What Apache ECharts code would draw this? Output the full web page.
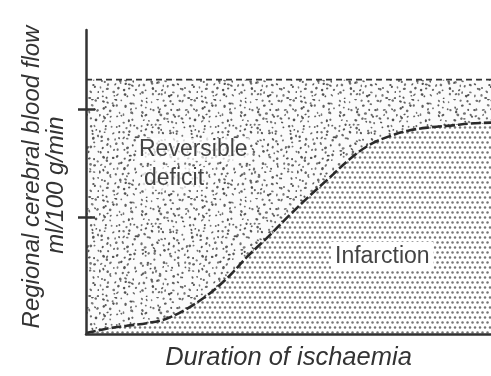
<!DOCTYPE html>
<html>
<head>
<meta charset="utf-8">
<script src="https://cdn.jsdelivr.net/npm/echarts@6/dist/echarts.min.js"></script>
<style>
  html, body { margin: 0; padding: 0; background: #fff; }
  #chart { width: 491px; height: 376px; }
</style>
</head>
<body>
<div id="chart"></div>
<script>
// Duration of ischaemia (relative units, 0-100)
const durations = [0, 5, 10, 15, 20, 25, 30, 35, 40, 45, 50, 55, 60, 65, 70, 75, 80, 85, 90, 95, 100];
// Flow threshold for infarction at each duration (relative units)
const infarctionThreshold = [0.3, 1.8, 2.8, 3.7, 5.3, 8.7, 13.3, 19.3, 26.7, 33.3, 40.3, 47.0, 53.3, 59.7, 64.7, 67.7, 69.7, 70.7, 71.3, 72.0, 72.3];
// Normal flow level (upper bound of the reversible band)
const normalFlow = 87;
const normalSpan = [0, 100];
// Unlabelled tick marks on the flow axis
const flowTicks = [40, 77];

const INK = '#333';

// Irregular stipple for the reversible band: jittered grid, deterministic
function makeStipple() {
  const size = 99, step = 5.5;
  const c = document.createElement('canvas');
  c.width = size; c.height = size;
  const g = c.getContext('2d');
  g.fillStyle = '#fbfbfb';
  g.fillRect(0, 0, size, size);
  let s = 98765;
  const rnd = () => { s = (s * 1103515245 + 12345) & 0x7fffffff; return s / 0x7fffffff; };
  for (let gy = 0; gy < size; gy += step) {
    for (let gx = 0; gx < size; gx += step) {
      const x = gx + rnd() * step, y = gy + rnd() * step;
      const w = 1.3 + rnd() * 1.5, h = 1.1 + rnd() * 1.2;
      const shade = 60 + Math.floor(rnd() * 50);
      g.fillStyle = 'rgba(' + shade + ',' + shade + ',' + shade + ',0.9)';
      g.beginPath();
      g.ellipse(x, y, w / 2 + 0.2, h / 2 + 0.2, rnd() * Math.PI, 0, Math.PI * 2);
      g.fill();
    }
  }
  return c;
}

// Regular fine dot screen for the infarction zone
function makeScreen() {
  const c = document.createElement('canvas');
  c.width = 10; c.height = 10;
  const g = c.getContext('2d');
  g.fillStyle = '#fff';
  g.fillRect(0, 0, 10, 10);
  g.fillStyle = '#777';
  const pts = [[2.5, 2.5], [7.5, 2.5], [0, 7.5], [5, 7.5], [10, 7.5]];
  pts.forEach(p => { g.beginPath(); g.arc(p[0], p[1], 1.25, 0, Math.PI * 2); g.fill(); });
  return c;
}

const chart = echarts.init(document.getElementById('chart'), null, { renderer: 'canvas' });

const tickStyle = { color: INK, width: 2.5 };

chart.setOption({
  animation: false,
  backgroundColor: '#fff',
  grid: { left: 86, right: 0, top: 30, bottom: 34, containLabel: false },
  xAxis: {
    type: 'value', min: 0, max: 100, z: 10,
    axisLine: { show: true, lineStyle: { color: INK, width: 2.5 } },
    axisTick: { show: false }, axisLabel: { show: false }, splitLine: { show: false },
    name: 'Duration of ischaemia', nameLocation: 'middle', nameGap: 11,
    nameTextStyle: { fontFamily: 'Liberation Sans', fontStyle: 'italic', fontSize: 25.5, color: INK, verticalAlign: 'top' }
  },
  yAxis: [
    {
      type: 'value', min: 0, max: 104, z: 10,
      axisLine: { show: true, lineStyle: { color: INK, width: 2.5 } },
      axisTick: { show: true, customValues: flowTicks, length: 8, inside: false, lineStyle: tickStyle },
      axisLabel: { show: false }, splitLine: { show: false }
    },
    {
      type: 'value', min: 0, max: 104, position: 'left', offset: 0, z: 10,
      axisLine: { show: false },
      axisTick: { show: true, customValues: flowTicks, length: 9, inside: true, lineStyle: tickStyle },
      axisLabel: { show: false }, splitLine: { show: false }
    }
  ],
  series: [
    {
      name: 'Reversible deficit',
      type: 'line',
      data: normalSpan.map(x => [x, normalFlow]),
      showSymbol: false,
      lineStyle: { color: INK, width: 1.8, type: [6, 4] },
      areaStyle: { color: { image: makeStipple(), repeat: 'repeat' }, opacity: 1 },
      z: 2
    },
    {
      name: 'Infarction',
      type: 'line',
      data: durations.map((x, i) => [x, infarctionThreshold[i]]),
      smooth: 0.35,
      showSymbol: false,
      lineStyle: { color: '#2a2a2a', width: 2.6, type: [10, 3] },
      areaStyle: { color: { image: makeScreen(), repeat: 'repeat' }, opacity: 1 },
      z: 3
    }
  ],
  graphic: [
    {
      type: 'text', left: 137, top: 138, z: 10,
      style: { text: 'Reversible', font: '23px "Liberation Sans"', fill: '#444',
               backgroundColor: 'rgba(255,255,255,0.75)', padding: [0, 2] }
    },
    {
      type: 'text', left: 142, top: 167, z: 10,
      style: { text: 'deficit', font: '23px "Liberation Sans"', fill: '#444',
               backgroundColor: 'rgba(255,255,255,0.75)', padding: [0, 2] }
    },
    {
      type: 'text', left: 331, top: 242, z: 10,
      style: { text: 'Infarction', font: '23px "Liberation Sans"', fill: '#444',
               backgroundColor: '#fff', padding: [3, 4] }
    },
    {
      type: 'text', x: 32, y: 177, rotation: Math.PI / 2, z: 10,
      style: { text: 'Regional cerebral blood flow', font: 'italic 24px "Liberation Sans"', fill: INK,
               align: 'center', verticalAlign: 'middle' }
    },
    {
      type: 'text', x: 56, y: 185, rotation: Math.PI / 2, z: 10,
      style: { text: 'ml/100 g/min', font: 'italic 24px "Liberation Sans"', fill: INK,
               align: 'center', verticalAlign: 'middle' }
    }
  ]
});
</script>
</body>
</html>
